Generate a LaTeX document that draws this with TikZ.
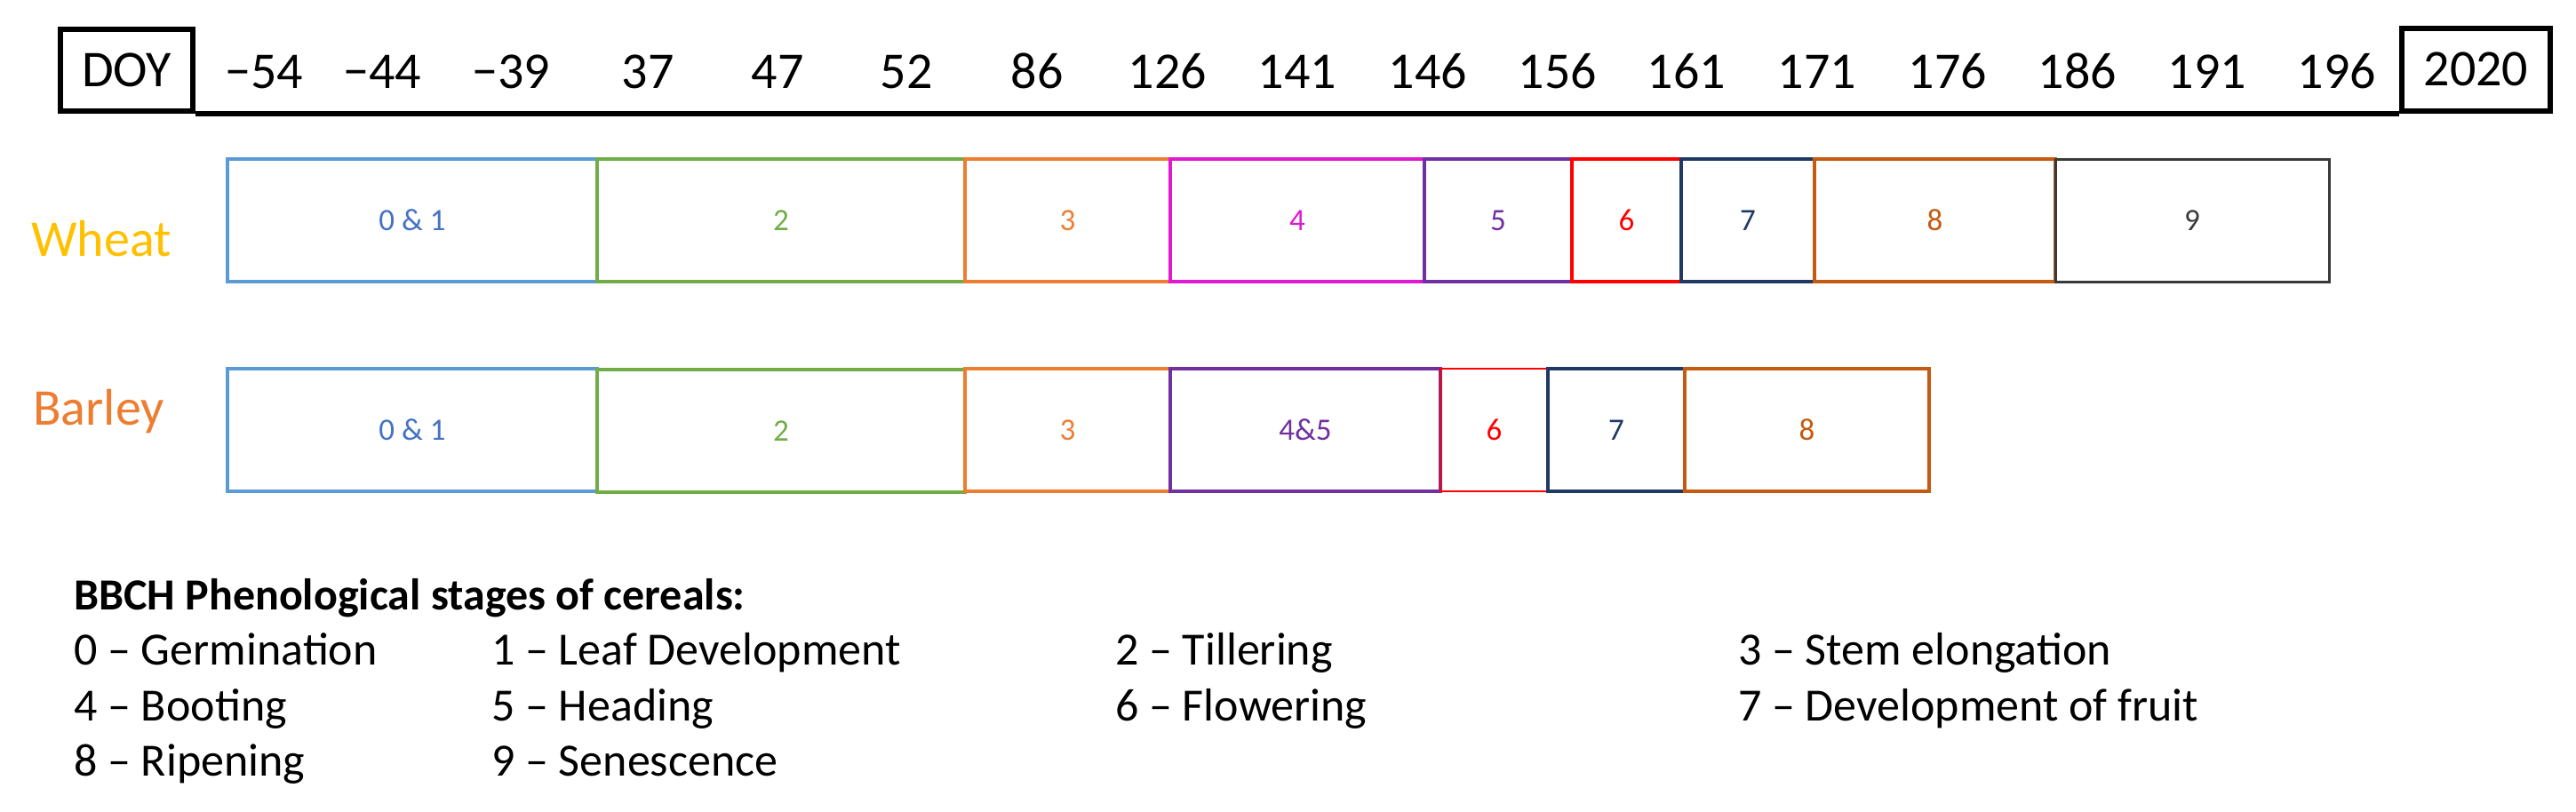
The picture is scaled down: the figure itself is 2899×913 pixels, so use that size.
\documentclass[tikz,border=0pt]{standalone}
\usepackage{fontspec}
\setmainfont{Carlito}
\definecolor{c01}{HTML}{5B9BD5}
\definecolor{c01t}{HTML}{4472C4}
\definecolor{c2}{HTML}{70AD47}
\definecolor{c3}{HTML}{ED7D31}
\definecolor{c4}{RGB}{224,24,208}
\definecolor{c5}{HTML}{7030A0}
\definecolor{c6}{HTML}{FF0000}
\definecolor{c7}{HTML}{203864}
\definecolor{c8}{HTML}{C55A11}
\definecolor{c9}{HTML}{3B3838}
\definecolor{wheatc}{HTML}{FFC000}
\definecolor{barleyc}{HTML}{ED7D31}
\begin{document}
\begin{tikzpicture}[x=1pt,y=-1pt,
  hdr/.style={draw=black, line width=6pt, inner sep=0pt, font=\fontsize{58}{70}\selectfont},
  num/.style={anchor=base, inner sep=0pt, font=\fontsize{58}{70}\selectfont},
  stg/.style={draw=#1, text=#1, line width=3.5pt, inner sep=0pt, minimum height=138pt, font=\fontsize{35}{42}\selectfont},
  crop/.style={anchor=base west, inner sep=0pt, font=\fontsize{58}{70}\selectfont},
  leg/.style={anchor=base west, inner sep=0pt, font=\fontsize{52}{62}\selectfont}]
\useasboundingbox (0,0) rectangle (2899,913);
% header
\node[hdr, minimum width=149pt, minimum height=92pt] (doy) at (142.5,78.5) {DOY};
\node[hdr, minimum width=167pt, minimum height=93pt] (yr) at (2786.5,78) {2020};
\draw[line width=6pt] (doy.south east) -- (yr.south west);
\foreach \v/\x [count=\i] in {−54/297, −44/430, −39/575, 37/729, 47/875, 52/1020, 86/1167, 126/1314, 141/1460, 146/1607, 156/1753, 161/1898, 171/2045, 176/2192, 186/2338, 191/2484, 196/2630}
  \node[num] (h\i) at (\x,99) {\v};
% crop labels
\node[crop, text=wheatc] (wheat) at (35,288) {Wheat};
\node[crop, text=barleyc] (barley) at (37,478) {Barley};
% wheat stages
\node[stg=c01, text=c01t, minimum width=416pt] (w01) at (464,248) {0 \& 1};
\node[stg=c2, minimum width=414pt] (w2) at (879,248) {2};
\node[stg=c3, minimum width=231pt] (w3) at (1201.5,248) {3};
\node[stg=c4, minimum width=286pt] (w4) at (1460,248) {4};
\node[stg=c5, minimum width=166pt] (w5) at (1686,248) {5};
\node[stg=c6, minimum width=123pt] (w6) at (1830.5,248) {6};
\node[stg=c7, minimum width=150pt] (w7) at (1967,248) {7};
\node[stg=c8, minimum width=271pt] (w8) at (2177.5,248) {8};
\node[stg=c9, line width=3pt, minimum width=308pt] (w9) at (2467,248) {9};
% barley stages
\node[stg=c01, text=c01t, minimum width=416pt] (b01) at (464,484) {0 \& 1};
\node[stg=c2, minimum width=414pt] (b2) at (879,485) {2};
\node[stg=c3, minimum width=231pt] (b3) at (1201.5,484) {3};
\node[stg=c5, minimum width=304pt] (b45) at (1469,484) {4\&5};
\node[stg=c6, line width=2.5pt, minimum width=121pt] (b6) at (1681.5,484) {6};
\node[stg=c7, minimum width=154pt] (b7) at (1819,484) {7};
\node[stg=c8, minimum width=275pt] (b8) at (2033.5,484) {8};
% legend
\node[leg, font=\fontsize{50}{60}\selectfont\bfseries] (title) at (83,686) {BBCH Phenological stages of cereals:};
\node[leg] (l0) at (83,748) {0 – Germination};
\node[leg] (l1) at (553,748) {1 – Leaf Development};
\node[leg] (l2) at (1255,748) {2 – Tillering};
\node[leg] (l3) at (1956,748) {3 – Stem elongation};
\node[leg] (l4) at (83,811) {4 – Booting};
\node[leg] (l5) at (553,811) {5 – Heading};
\node[leg] (l6) at (1255,811) {6 – Flowering};
\node[leg] (l7) at (1956,811) {7 – Development of fruit};
\node[leg] (l8) at (83,873) {8 – Ripening};
\node[leg] (l9) at (553,873) {9 – Senescence};
\end{tikzpicture}
\end{document}
